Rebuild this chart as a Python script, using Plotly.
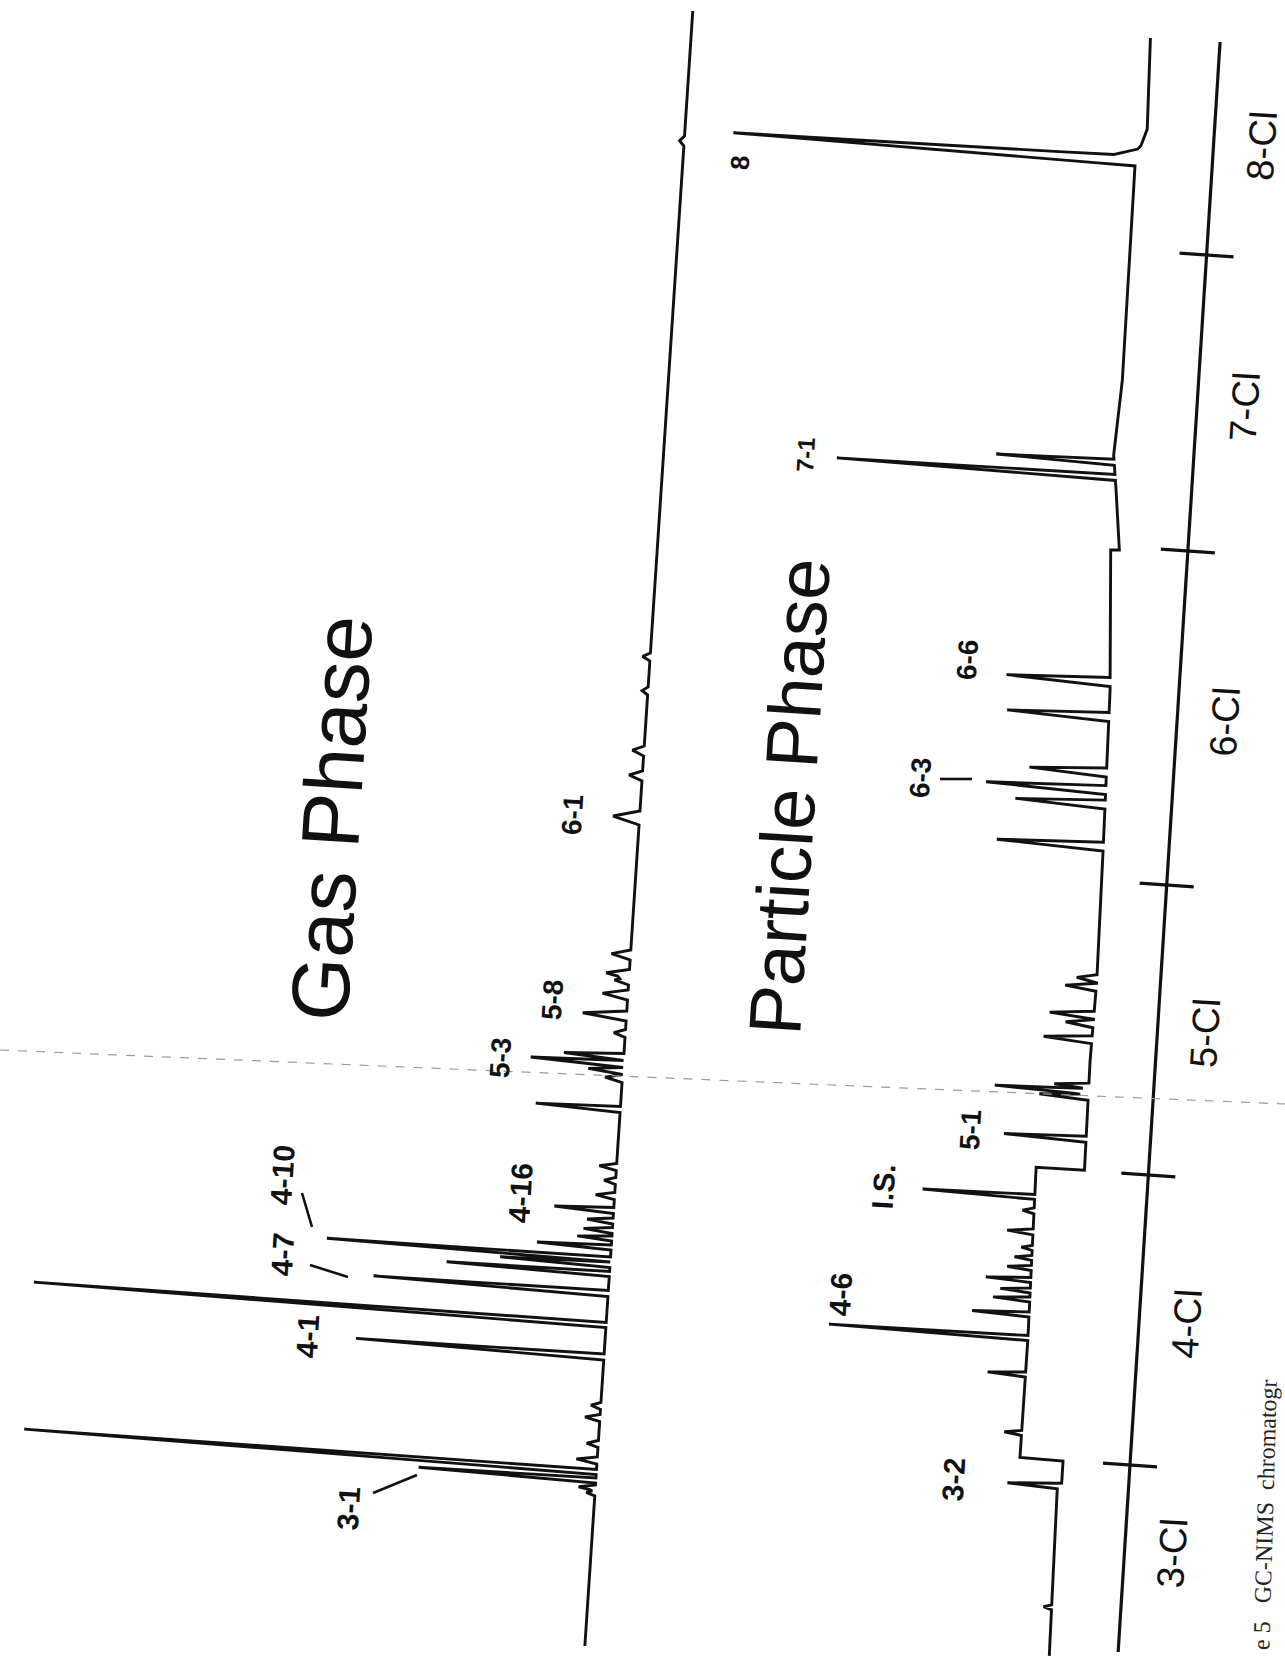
import numpy as np
import plotly.graph_objects as go

PAGE_W, PAGE_H = 1285, 1656

# ---------------- Gas phase peak table ----------------
# retention time (min), response (% of full scale), front / back half-widths (min)
gas_rt = [13.26, 13.36, 13.51, 13.68, 13.91, 14.24, 14.76, 15.00,
          15.98, 16.62, 17.25, 17.64, 17.82, 17.93, 18.17, 18.35, 18.51, 18.70, 18.91,
          19.20, 19.50, 19.78, 20.93, 21.55, 21.70, 21.84, 21.98, 22.45, 22.80,
          23.22, 23.50, 23.63, 24.02, 26.76, 27.60, 28.10, 29.30, 29.98, 40.30]
gas_resp = [1.5, 2.9, 30.8, 99.5, 3.6, 2.0, 2.6, 1.7,
            43.1, 99.5, 40.8, 28.3, 19.1, 49.3, 12.9, 6.0, 5.0, 4.5, 10.3,
            3.3, 2.0, 3.0, 14.7, 3.0, 6.0, 16.1, 10.4, 2.0, 7.6,
            4.4, 2.5, 4.0, 3.3, 4.6, 2.3, 2.0, 1.0, 1.3, 0.8]
gas_wl = [0.06, 0.06, 0.05, 0.05, 0.07, 0.07, 0.07, 0.07,
          0.06, 0.05, 0.06, 0.05, 0.05, 0.05, 0.05, 0.05, 0.06, 0.06, 0.06,
          0.07, 0.07, 0.07, 0.06, 0.08, 0.07, 0.07, 0.07, 0.08, 0.10,
          0.10, 0.08, 0.10, 0.10, 0.14, 0.10, 0.10, 0.08, 0.08, 0.10]
gas_wr = gas_wl
gas_base_rt = [10.2, 42.9]
gas_base_lvl = [0.0, 0.0]

# ---------------- Particle phase peak table ----------------
part_rt = [10.97, 13.39, 14.40, 15.57, 16.30, 16.77, 17.07, 17.25, 17.46, 17.70, 17.90,
           18.10, 18.42, 18.84, 19.12, 20.34, 21.18, 21.29, 21.40, 22.33, 22.65, 22.82,
           23.38, 23.55, 26.19, 27.03, 27.32, 27.67, 28.78, 29.48, 33.56, 33.86,
           39.89, 39.99, 39.99]
part_resp = [1.4, 8.7, 3.0, 6.6, 34.6, 9.9, 6.4, 5.2, 7.8, 4.2, 3.0,
             1.9, 4.5, 2.0, 19.5, 14.3, 8.5, 16.3, 6.0, 8.4, 4.8, 7.7,
             5.4, 3.5, 18.5, 15.6, 20.8, 13.4, 17.7, 18.0, 48.4, 20.5,
             70.3, 3.0, 1.6]
part_wl = [0.05, 0.05, 0.05, 0.05, 0.05, 0.05, 0.05, 0.05, 0.05, 0.05, 0.05,
           0.05, 0.06, 0.06, 0.05, 0.06, 0.06, 0.06, 0.06, 0.08, 0.08, 0.08,
           0.08, 0.08, 0.09, 0.09, 0.09, 0.09, 0.09, 0.09, 0.06, 0.06,
           0.10, 0.02, 0.02]
part_wr = [0.05, 0.05, 0.05, 0.05, 0.05, 0.05, 0.05, 0.05, 0.05, 0.05, 0.05,
           0.05, 0.06, 0.06, 0.05, 0.06, 0.06, 0.06, 0.06, 0.08, 0.08, 0.08,
           0.08, 0.08, 0.09, 0.09, 0.09, 0.09, 0.09, 0.09, 0.06, 0.06,
           0.10, 0.14, 0.55]
# baseline offsets between ion-monitoring windows
part_base_rt = [10.00, 13.30, 13.45, 13.46, 13.90, 13.91, 16.30, 19.71, 19.72, 21.90,
                23.50, 26.10, 29.30, 32.11, 32.12, 33.30, 34.00, 35.50, 39.80, 40.20, 42.36]
part_base_lvl = [0.3, 0.7, 0.7, 0.0, 0.0, 7.5, 7.4, 7.8, -0.6, -0.4,
                 -0.7, -0.4, 0.1, 1.5, 0.0, 1.2, 2.0, 1.3, 1.4, -0.4, 0.1]

# ---------------- Homolog windows ----------------
window_bounds = [13.82, 19.62, 25.42, 32.10, 38.02]
window_names = ["3-Cl", "4-Cl", "5-Cl", "6-Cl", "7-Cl", "8-Cl"]
window_name_rt = [12.12, 16.72, 22.52, 28.76, 35.06, 40.27]

# page frames: (x at t=10, baseline drift per px, peak tilt, px per response unit)
GAS_FRAME = (584.2, 0.066, 0.075, 5.75)
PART_FRAME = (1051.0, 0.0618, 0.070, 5.75)
AXIS_FRAME = (1117.9, 0.0633, 0.070, 1.0)
TEXT_ANGLE = -86.4


def build_signal(rt, resp, wl, wr, base_rt, base_lvl, t_start, t_end):
    knots = {t_start, t_end, *base_rt}
    for t, a, b in zip(rt, wl, wr):
        knots.update([t - a, t, t + b])
    ts = np.array(sorted(k for k in knots if t_start <= k <= t_end))
    sig = np.interp(ts, base_rt, base_lvl)
    for t, h, a, b in zip(rt, resp, wl, wr):
        left = np.clip(1 - (t - ts) / a, 0, 1)
        right = np.clip(1 - (ts - t) / b, 0, 1)
        sig = sig + h * np.where(ts <= t, left, right)
    return ts, sig


def page_xy(ts, sig, frame):
    x0, drift, tilt, k = frame
    dy = 50.0 * (np.asarray(ts, dtype=float) - 10.0)
    s = np.asarray(sig, dtype=float)
    return x0 + drift * dy - k * s, PAGE_H - dy - tilt * k * s


fig = go.Figure()
line_style = dict(color="#111111", width=2.9)

gt, gs = build_signal(gas_rt, gas_resp, gas_wl, gas_wr, gas_base_rt, gas_base_lvl, 10.2, 42.9)
gx, gy = page_xy(gt, gs, GAS_FRAME)
fig.add_trace(go.Scatter(x=gx, y=gy, mode="lines", line=line_style, hoverinfo="skip"))

pt, ps = build_signal(part_rt, part_resp, part_wl, part_wr, part_base_rt, part_base_lvl, 10.0, 42.36)
px, py = page_xy(pt, ps, PART_FRAME)
fig.add_trace(go.Scatter(x=px, y=py, mode="lines", line=line_style, hoverinfo="skip"))

# retention-time axis with homolog window ticks
ax, ay = page_xy([10.08, 42.28], [0, 0], AXIS_FRAME)
fig.add_trace(go.Scatter(x=ax, y=ay, mode="lines", line=dict(color="#111111", width=3.2),
                         hoverinfo="skip"))
for b in window_bounds:
    tx, ty = page_xy([b, b], [27, -27], AXIS_FRAME)
    fig.add_trace(go.Scatter(x=tx, y=ty, mode="lines", line=dict(color="#111111", width=3.2),
                             hoverinfo="skip"))

annotations = []
lx, ly = page_xy(window_name_rt, [-48] * len(window_name_rt), AXIS_FRAME)
for name, x, y in zip(window_names, lx, ly):
    annotations.append(dict(x=x, y=y, text=name, showarrow=False, textangle=TEXT_ANGLE,
                            font=dict(family="Liberation Sans, Arial", size=38, color="#111111")))

# congener labels
peak_labels = [
    ("3-1", 348, 1509, 30), ("4-1", 307, 1337, 30), ("4-7", 282, 1255, 30),
    ("4-10", 282, 1175, 30), ("4-16", 520, 1193, 30), ("5-3", 500, 1058, 28),
    ("5-8", 552, 1000, 28), ("6-1", 572, 815, 28),
    ("3-2", 953, 1480, 30), ("4-6", 840, 1295, 30), ("I.S.", 883, 1187, 30),
    ("5-1", 970, 1130, 28), ("6-3", 920, 778, 28), ("6-6", 967, 660, 28),
    ("7-1", 805, 455, 24), ("8", 740, 163, 26),
]
for text, x, y, size in peak_labels:
    annotations.append(dict(x=x, y=y, text=f"<b>{text}</b>", showarrow=False,
                            textangle=TEXT_ANGLE,
                            font=dict(family="Liberation Sans, Arial", size=size, color="#111111")))

annotations.append(dict(x=331, y=818, text="Gas Phase", showarrow=False, textangle=TEXT_ANGLE,
                        font=dict(family="Liberation Sans, Arial", size=82, color="#111111")))
annotations.append(dict(x=789, y=797, text="Particle Phase", showarrow=False, textangle=TEXT_ANGLE,
                        font=dict(family="Liberation Sans, Arial", size=74, color="#111111")))
annotations.append(dict(x=1265, y=1515, text="e 5&nbsp;&nbsp; GC-NIMS&nbsp; chromatogr",
                        showarrow=False, textangle=-88.4,
                        font=dict(family="Liberation Serif, Times New Roman", size=24,
                                  color="#222222")))

shapes = []
# leader lines from labels to peaks
for x0, y0, x1, y1 in [(373, 1493, 417, 1475), (310, 1265, 348, 1277),
                       (302, 1193, 312, 1227), (940, 779, 972, 779)]:
    shapes.append(dict(type="line", x0=x0, y0=y0, x1=x1, y1=y1, xref="x", yref="y",
                       line=dict(color="#111111", width=2.6)))
# faint fold line across the sheet
shapes.append(dict(type="line", x0=0, y0=1050, x1=PAGE_W, y1=1104, xref="x", yref="y",
                   line=dict(color="#9a9a9a", width=1.2, dash="dash")))

fig.update_layout(
    width=PAGE_W, height=PAGE_H, autosize=False,
    margin=dict(l=0, r=0, t=0, b=0),
    paper_bgcolor="white", plot_bgcolor="white", showlegend=False,
    xaxis=dict(range=[0, PAGE_W], visible=False, fixedrange=True),
    yaxis=dict(range=[PAGE_H, 0], visible=False, fixedrange=True),
    annotations=annotations, shapes=shapes,
)
fig.write_html("out.html")
